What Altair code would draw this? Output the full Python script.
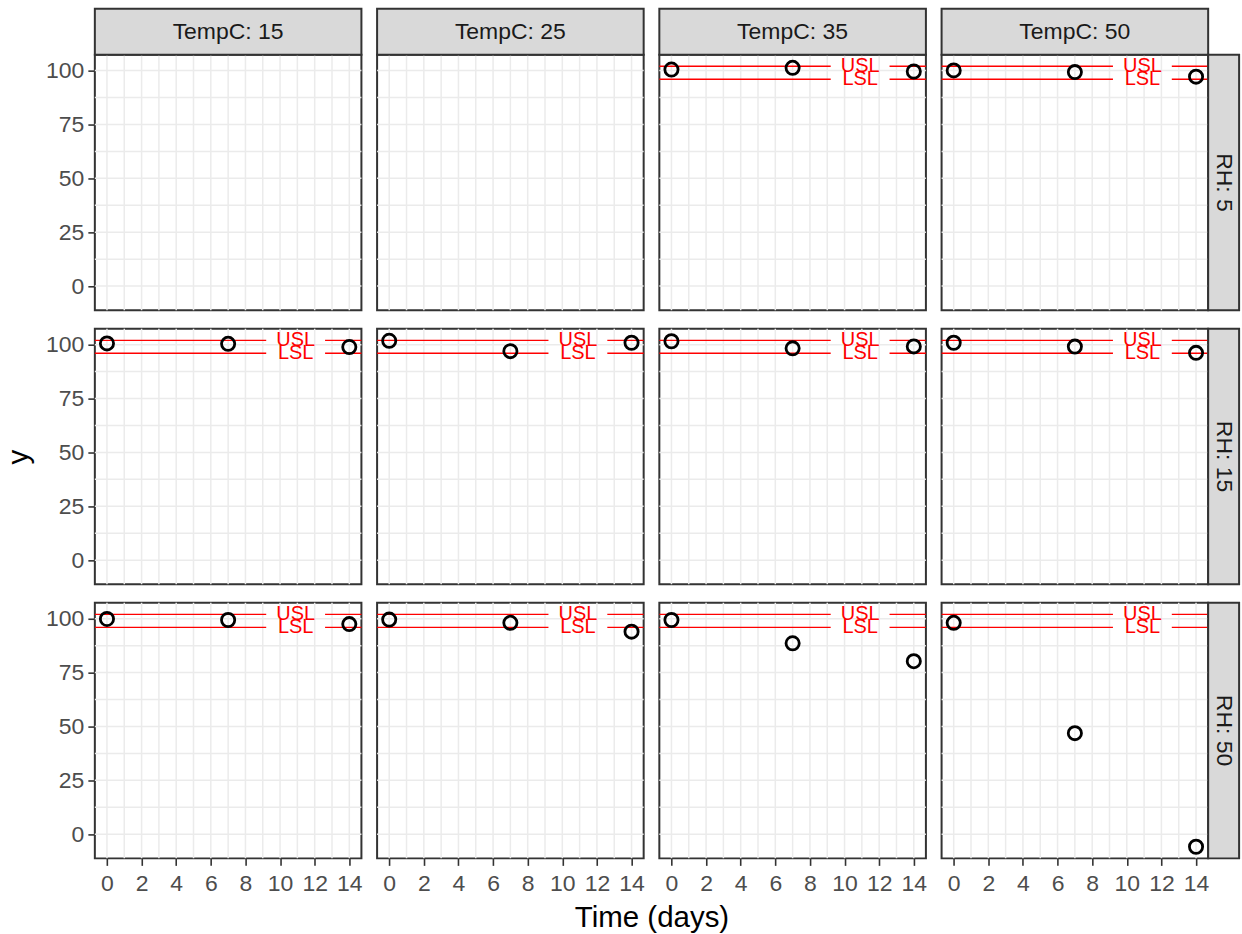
import altair as alt
import pandas as pd

# Storage conditions laid out as a grid: RH rows, temperature columns
TEMPS = [15, 25, 35, 50]
RHS = [5, 15, 50]
DAYS = [0, 7, 14]

# Assay results at days 0, 7 and 14 for each condition that was tested
rh5_t35 = [100.5, 101.3, 99.6]
rh5_t50 = [100.1, 99.3, 97.2]
rh15_t15 = [100.6, 100.4, 98.9]
rh15_t25 = [101.8, 97.0, 100.9]
rh15_t35 = [101.6, 98.3, 99.2]
rh15_t50 = [100.9, 99.1, 96.2]
rh50_t15 = [99.9, 99.4, 97.5]
rh50_t25 = [99.6, 98.1, 94.0]
rh50_t35 = [99.4, 88.6, 80.3]
rh50_t50 = [98.1, 46.9, -5.8]

SERIES = {
    (5, 35): rh5_t35, (5, 50): rh5_t50,
    (15, 15): rh15_t15, (15, 25): rh15_t25, (15, 35): rh15_t35, (15, 50): rh15_t50,
    (50, 15): rh50_t15, (50, 25): rh50_t25, (50, 35): rh50_t35, (50, 50): rh50_t50,
}

# Specification limits
LIMIT_NAMES = ["USL", "LSL"]
LIMIT_VALUES = [102, 96]

# Axis ticks and grid positions
X_TICKS = [0, 2, 4, 6, 8, 10, 12, 14]
X_GRID = list(range(15))
Y_TICKS = [0, 25, 50, 75, 100]
Y_GRID = [0, 12.5, 25, 37.5, 50, 62.5, 75, 87.5, 100]

# Layout / style
X_DOMAIN = [-0.7, 14.7]
Y_DOMAIN = [-11.2, 107.4]
LABEL_X = 10.9
LABEL_HALF_GAP = 1.7
W, H = 267, 256
STRIP_H = 46
STRIP_W = 31
COL_GAP = 15.7
ROW_GAP = 14.5
BORDER = "#333333"
GRID = "#EBEBEB"
RED = "#FF0000"
TICK_FONT = 23
TITLE_FONT = 29.5

xs = alt.Scale(domain=X_DOMAIN, nice=False, zero=False)
ys = alt.Scale(domain=Y_DOMAIN, nice=False, zero=False)


def x_axis_for(ri, ci):
    if ri != len(RHS) - 1:
        return None
    kw = dict(values=X_TICKS, grid=False, domain=False, tickSize=7, tickWidth=1.6,
              tickColor=BORDER, labelFontSize=TICK_FONT, labelColor="#4D4D4D",
              labelPadding=7, labelFlush=False, labelOverlap=False)
    if ci == 1:
        kw.update(title="Time (days)", titleX=W + COL_GAP / 2, titleFontSize=TITLE_FONT,
                  titleFontWeight="normal", titleColor="black", titlePadding=8)
    else:
        kw.update(title=None)
    return alt.Axis(**kw)


def y_axis_for(ri, ci):
    if ci != 0:
        return None
    kw = dict(values=Y_TICKS, grid=False, domain=False, tickSize=7, tickWidth=1.6,
              tickColor=BORDER, labelFontSize=TICK_FONT, labelColor="#4D4D4D",
              labelPadding=4, labelFlush=False, labelOverlap=False)
    if ri == 1:
        kw.update(title="y", titleFontSize=TITLE_FONT, titleFontWeight="normal",
                  titleColor="black", titlePadding=12)
    else:
        kw.update(title=None)
    return alt.Axis(**kw)


def panel(ri, ci):
    rh, temp = RHS[ri], TEMPS[ci]
    xa = x_axis_for(ri, ci)
    ya = y_axis_for(ri, ci)

    layers = [
        alt.Chart(pd.DataFrame({"gx": X_GRID})).mark_rule(color=GRID, strokeWidth=1.5)
        .encode(x=alt.X("gx:Q", scale=xs, axis=xa)),
        alt.Chart(pd.DataFrame({"gy": Y_GRID})).mark_rule(color=GRID, strokeWidth=1.5)
        .encode(y=alt.Y("gy:Q", scale=ys, axis=ya)),
    ]

    values = SERIES.get((rh, temp))
    if values is not None:
        seg_rows = []
        for name, v in zip(LIMIT_NAMES, LIMIT_VALUES):
            seg_rows.append({"limit": name, "value": v, "x0": X_DOMAIN[0], "x1": LABEL_X - LABEL_HALF_GAP})
            seg_rows.append({"limit": name, "value": v, "x0": LABEL_X + LABEL_HALF_GAP, "x1": X_DOMAIN[1]})
        segs = pd.DataFrame(seg_rows)
        labels = pd.DataFrame({"limit": LIMIT_NAMES, "value": LIMIT_VALUES,
                               "lx": [LABEL_X] * len(LIMIT_NAMES)})
        pts = pd.DataFrame({"day": DAYS, "value": values})

        layers += [
            alt.Chart(segs).mark_rule(color=RED, strokeWidth=1.4).encode(
                x=alt.X("x0:Q", scale=xs, axis=xa), x2="x1:Q",
                y=alt.Y("value:Q", scale=ys, axis=ya)),
            alt.Chart(labels).mark_text(color=RED, fontSize=20, baseline="middle",
                                        align="center").encode(
                x=alt.X("lx:Q", scale=xs, axis=xa),
                y=alt.Y("value:Q", scale=ys, axis=ya), text="limit:N"),
            alt.Chart(pts).mark_point(shape="circle", filled=False, size=175,
                                      strokeWidth=2.8, color="black", opacity=1).encode(
                x=alt.X("day:Q", scale=xs, axis=xa),
                y=alt.Y("value:Q", scale=ys, axis=ya)),
        ]

    if ri == 0:
        top = pd.DataFrame({"label": [f"TempC: {temp}"]})
        layers += [
            alt.Chart(top).mark_rect(fill="#D9D9D9", stroke=BORDER, strokeWidth=2).encode(
                x=alt.value(0), x2=alt.value(W), y=alt.value(-STRIP_H), y2=alt.value(0)),
            alt.Chart(top).mark_text(fontSize=TICK_FONT, color="#1A1A1A", baseline="middle").encode(
                x=alt.value(W / 2), y=alt.value(-STRIP_H / 2), text="label:N"),
        ]
    if ci == len(TEMPS) - 1:
        side = pd.DataFrame({"label": [f"RH: {rh}"]})
        layers += [
            alt.Chart(side).mark_rect(fill="#D9D9D9", stroke=BORDER, strokeWidth=2).encode(
                x=alt.value(W), x2=alt.value(W + STRIP_W), y=alt.value(0), y2=alt.value(H)),
            alt.Chart(side).mark_text(fontSize=TICK_FONT, color="#1A1A1A", baseline="middle",
                                      angle=90).encode(
                x=alt.value(W + STRIP_W / 2), y=alt.value(H / 2), text="label:N"),
        ]

    return alt.layer(*layers).properties(width=W, height=H)


# Within a row, panels are laid out by their own width so that strips and the
# shared axis title do not push neighbouring panels around.
rows = [alt.hconcat(*[panel(ri, ci) for ci in range(len(TEMPS))], spacing=COL_GAP,
                    bounds="flush")
        for ri in range(len(RHS))]

chart = (
    alt.vconcat(*rows, spacing=ROW_GAP)
    .properties(padding={"left": 2, "top": 6, "right": 0, "bottom": 5}, background="white")
    .configure(font="Liberation Sans")
    .configure_view(stroke=BORDER, strokeWidth=2)
)

chart.save("out.html", embed_options={"renderer": "svg", "actions": False})
